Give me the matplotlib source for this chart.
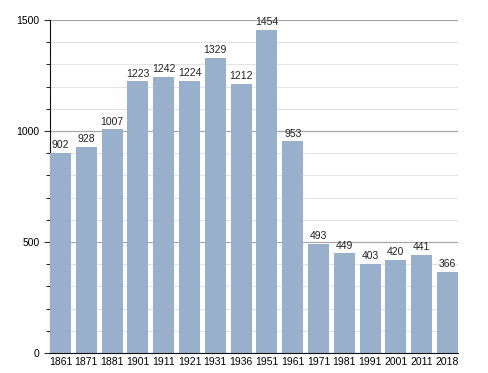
import matplotlib.pyplot as plt
from matplotlib.ticker import MultipleLocator

plt.rcParams["font.family"] = ["Liberation Sans", "DejaVu Sans"]

years = ["1861", "1871", "1881", "1901", "1911", "1921", "1931", "1936",
         "1951", "1961", "1971", "1981", "1991", "2001", "2011", "2018"]
population = [902, 928, 1007, 1223, 1242, 1224, 1329, 1212,
              1454, 953, 493, 449, 403, 420, 441, 366]

bar_color = "#98b0cb"
width = 0.814

fig = plt.figure(figsize=(4.88, 3.73), dpi=100)
ax = fig.add_axes([0.1025, 0.0536, 0.836, 0.8928])

x = list(range(len(years)))
ax.bar(x, population, width=width, color=bar_color, zorder=3)

for xi, v in zip(x, population):
    ax.annotate(str(v), (xi, v), xytext=(0, 2), textcoords="offset points",
                ha="center", va="bottom", fontsize=7.5, color="#222222", zorder=4)

ax.set_xlim(-width / 2, len(years) - 1 + width / 2)
ax.set_ylim(0, 1500)
ax.set_xticks(x)
ax.set_xticklabels(years, fontsize=7.5)
ax.yaxis.set_major_locator(MultipleLocator(500))
ax.yaxis.set_minor_locator(MultipleLocator(100))
ax.tick_params(axis="y", labelsize=7.5, length=4, color="#333333")
ax.tick_params(axis="y", which="minor", length=3)
ax.tick_params(axis="x", length=0, pad=3)

ax.grid(axis="y", which="major", color="#a8a8a8", linewidth=0.9, zorder=0)
ax.grid(axis="y", which="minor", color="#e4e4e4", linewidth=0.8, zorder=0)

for side in ["top", "right"]:
    ax.spines[side].set_visible(False)
ax.spines["left"].set_color("#111111")
ax.spines["bottom"].set_color("#111111")
ax.spines["bottom"].set_zorder(5)

plt.savefig("out.png", dpi=100)
plt.close()
